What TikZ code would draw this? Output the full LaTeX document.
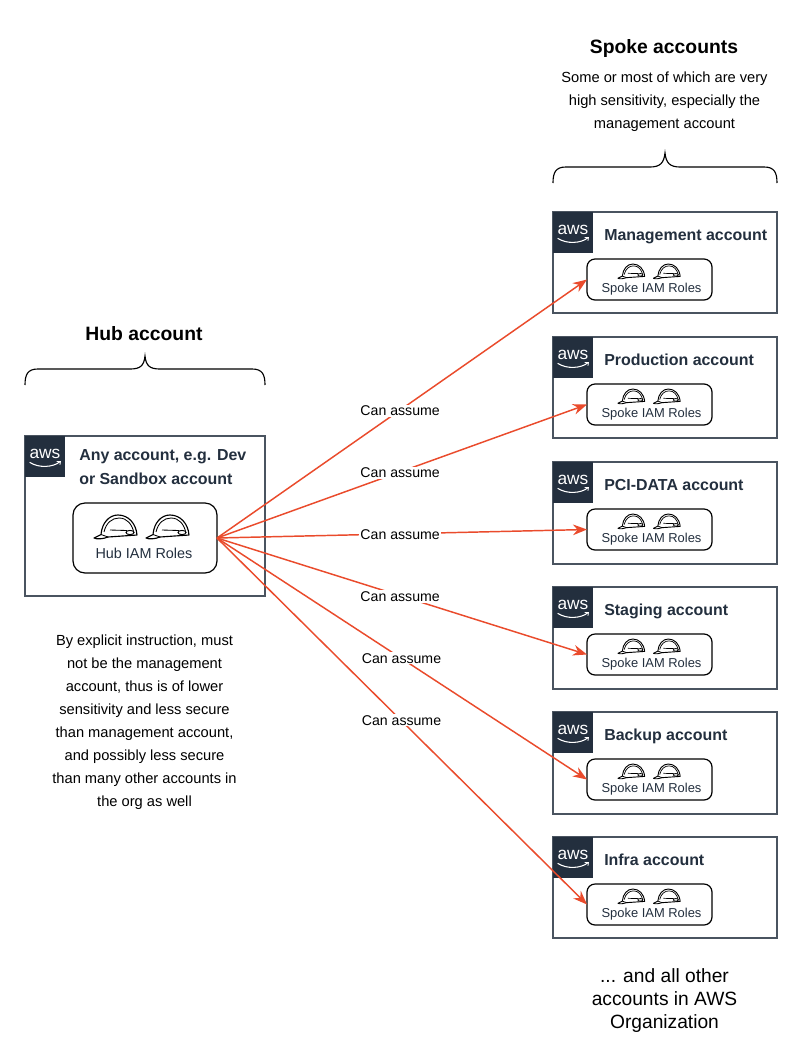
\documentclass[tikz,border=0pt]{standalone}
\usepackage{fontspec}
\setmainfont{Liberation Sans}
\usetikzlibrary{arrows.meta}
\definecolor{awsnavy}{HTML}{232F3E}
\definecolor{boxedge}{HTML}{4A5460}
\definecolor{arrowred}{HTML}{EA4B2C}
\tikzset{
  px/.style={x=0.75pt,y=-0.75pt},
  acct/.style={draw=boxedge,line width=1.1pt,fill=white,inner sep=0pt,outer sep=0pt},
  rolebox/.style={draw=black,line width=0.9pt,rounded corners=6pt,fill=white,inner sep=0pt,outer sep=0pt},
  awstile/.style={fill=awsnavy,inner sep=0pt,outer sep=0pt},
  awsword/.style={text=white,font=\fontsize{13pt}{13pt}\selectfont,inner sep=0pt},
  acctitle/.style={text=awsnavy,font=\fontsize{11.95pt}{18pt}\selectfont\bfseries,inner sep=0pt,anchor=west},
  rolelabel/.style={text=awsnavy,font=\fontsize{9.7pt}{11pt}\selectfont,inner sep=0pt},
  heading/.style={font=\fontsize{14.5pt}{16pt}\selectfont\bfseries,inner sep=0pt},
  note/.style={font=\fontsize{11pt}{17.3pt}\selectfont,align=center,inner sep=0pt},
  bottomnote/.style={font=\fontsize{14.4pt}{17.3pt}\selectfont,align=center,inner sep=0pt},
  assume/.style={draw=arrowred,line width=1.1pt,-{Stealth[length=10.5pt,width=8pt]}},
  canlabel/.style={fill=white,font=\fontsize{10.6pt}{12pt}\selectfont,inner sep=0.8pt,text=black,pos=.495,yshift=-0.6pt},
  bracel/.style={draw=black,line width=0.85pt},
  smile/.style={draw=white,line width=0.8pt},
  helmetw/.store in=\helmetlw,helmetw=0.85pt,
  helmet/.pic={
    \path[draw=black,line width=\helmetlw,fill=white,line join=round]
      (7,19.5) .. controls (8,8) and (15,0) .. (24,0)
      .. controls (34,0) and (42,8) .. (43,20) -- (14,22) .. controls (9,24) and (3,24.5) .. (0,23) -- (7,19.5) -- cycle;
    \path[draw=black,line width=0.75*\helmetlw] (10,17) .. controls (12,8) and (18,3) .. (25,3)
      .. controls (33,3) and (38,9) .. (40,18);
    \path[draw=black,line width=0.75*\helmetlw] (16,15) -- (33,15.5);
    \path[draw=black,line width=0.85*\helmetlw,fill=white] (36,17.5) ellipse [x radius=4,y radius=2.1];
    \path[draw=black,line width=0.75*\helmetlw] (7,19.5) -- (14,22);
  },
}
\newcommand{\awslogo}[3]{% name, left x, top y
  \node[awstile,minimum width=30pt,minimum height=30.5pt,anchor=north west] (#1) at (#2,#3) {};
  \node[awsword] (#1word) at ([yshift=1.8pt]#1.center) {aws};
  \coordinate (#1sa) at ([xshift=-11.5pt,yshift=-4.5pt]#1.center);
  \coordinate (#1sb) at ([xshift=11pt,yshift=-4.2pt]#1.center);
  \path[smile] (#1sa) .. controls ([xshift=7pt,yshift=-4.5pt]#1sa) and ([xshift=-5pt,yshift=-4pt]#1sb) .. (#1sb);
  \path[smile,line width=0.6pt] ([xshift=-2.2pt,yshift=0.4pt]#1sb) -- ([xshift=0.6pt,yshift=0.3pt]#1sb) -- ([xshift=0.2pt,yshift=-2.2pt]#1sb);
}
\newcommand{\spokebox}[4]{% name, top y, height px, title
  \node[acct,minimum width=168pt,minimum height=#3*0.75pt,anchor=north west] (#1) at (553,#2) {};
  \awslogo{#1logo}{553}{#2}
  \node[acctitle,anchor=base west] (#1title) at (604,#2+28.5) {#4};
  \node[rolebox,minimum width=93.75pt,minimum height=30.75pt,anchor=north west] (#1role) at (587,#2+47) {};
  \pic[scale=0.62,helmetw=0.7pt] at (618,#2+52) {helmet};
  \pic[scale=0.62,helmetw=0.7pt] at (653.5,#2+52) {helmet};
  \node[rolelabel] (#1lab) at (651.5,#2+77.5) {Spoke IAM Roles};
}
\begin{document}
\begin{tikzpicture}[px]
\path[fill=white] (0,0) rectangle (804,1058);
\useasboundingbox (0,0) rectangle (804,1058);

% hub
\node[acct,minimum width=180pt,minimum height=120pt,anchor=north west] (hub) at (25,436) {};
\awslogo{hublogo}{25}{436}
\node[acctitle,align=left] (hubtitle) at (79,467) {Any account, e.g. Dev\\or Sandbox account};
\node[rolebox,rounded corners=9pt,minimum width=108pt,minimum height=52.5pt,anchor=north west] (hubrole) at (73,503) {};
\pic at (94,515) {helmet};
\pic at (146,515) {helmet};
\node[rolelabel,font=\fontsize{10.8pt}{12pt}\selectfont] (hublab) at (144,553) {Hub IAM Roles};

% spokes
\spokebox{mgmt}{212}{101}{Management account}
\spokebox{prod}{337}{101}{Production account}
\spokebox{pci}{462}{102}{PCI-DATA account}
\spokebox{stag}{587}{102}{Staging account}
\spokebox{back}{712}{102}{Backup account}
\spokebox{infra}{837}{101}{Infra account}

% connectors
\draw[assume] (hubrole.east) -- node[canlabel] {Can assume} (mgmtrole.west);
\draw[assume] (hubrole.east) -- node[canlabel] {Can assume} (prodrole.west);
\draw[assume] (hubrole.east) -- node[canlabel] {Can assume} (pcirole.west);
\draw[assume] (hubrole.east) -- node[canlabel] {Can assume} (stagrole.west);
\draw[assume] (hubrole.east) -- node[canlabel,xshift=1pt] {Can assume} (backrole.west);
\draw[assume] (hubrole.east) -- node[canlabel,xshift=1pt] {Can assume} (infrarole.west);

% headings and notes
\node[heading] (hubhead) at (144,333.5) {Hub account};
\node[heading] (spokehead) at (664,48) {Spoke accounts};
\node[note] (spokenote) at (664.5,101.5) {Some or most of which are very\\high sensitivity, especially the\\management account};
\node[note] (hubnote) at (144.5,722) {By explicit instruction, must\\not be the management\\account, thus is of lower\\sensitivity and less secure\\than management account,\\and possibly less secure\\than many other accounts in\\the org as well};
\node[bottomnote] (morenote) at (664.5,1000.5) {... and all other\\accounts in AWS\\Organization};

% braces
\path[bracel] (553,183) .. controls (553,172) and (556,167) .. (566,167) -- (650,167)
  .. controls (660,167) and (664,163) .. (665,153) .. controls (666,163) and (670,167) .. (680,167)
  -- (764,167) .. controls (774,167) and (777,172) .. (777,183);
\path[bracel] (25,385) .. controls (25,374) and (28,369) .. (38,369) -- (130,369)
  .. controls (140,369) and (144,366) .. (145,356) .. controls (146,366) and (150,369) .. (160,369)
  -- (252,369) .. controls (262,369) and (265,374) .. (265,385);
\end{tikzpicture}
\end{document}
